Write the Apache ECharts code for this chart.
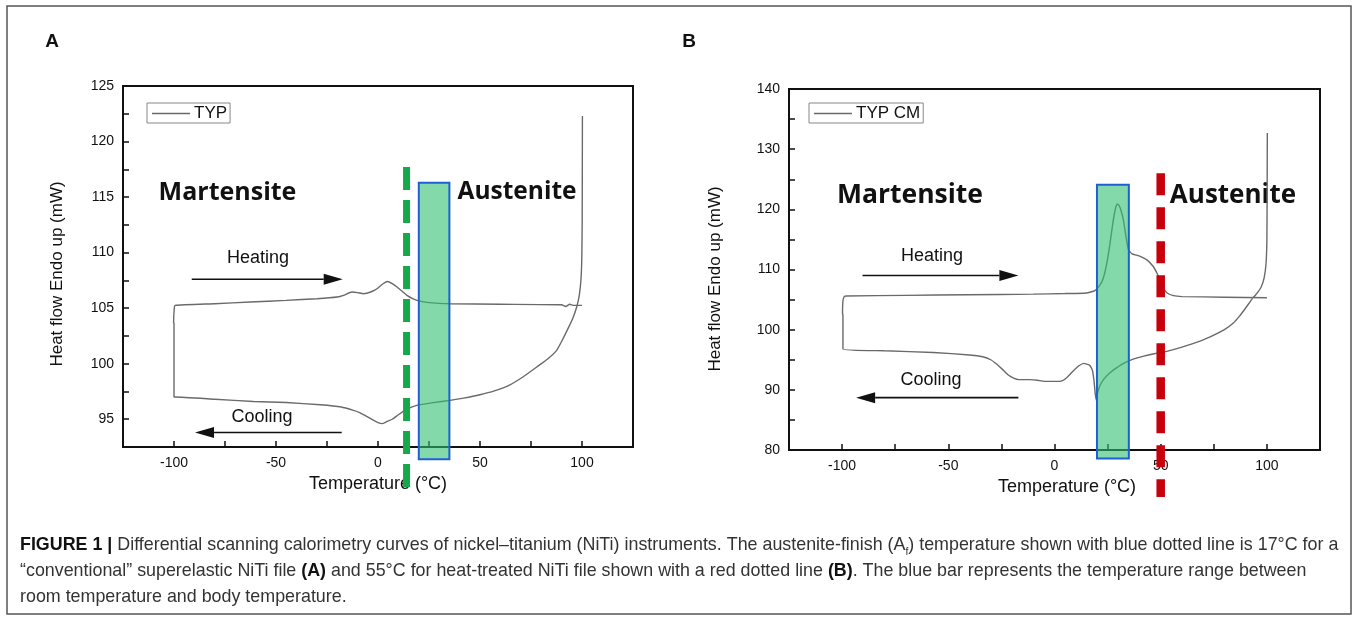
<!DOCTYPE html>
<html>
<head>
<meta charset="utf-8">
<script src="https://cdn.jsdelivr.net/npm/echarts@6/dist/echarts.min.js"></script>
<style>
  html, body { margin: 0; background: #fff; }
  #chart { width: 1357px; height: 621px; }
</style>
</head>
<body>
<div id="chart"></div>
<script>
// DSC loop of the conventional file (A): cooling from the right, then heating back
const typLoop = [
  [100.2, 122.3], [100.1, 113], [99.9, 109.5], [99.5, 107.6], [98.7, 106.2], [97.4, 105.1],
  [95.5, 104.1], [92.7, 103.0], [90, 102.0], [87.6, 101.2], [83, 100.4], [77.8, 99.7],
  [71, 98.8], [64.7, 98.1], [57, 97.55], [50, 97.2], [42, 96.9], [35.3, 96.7], [27, 96.5],
  [19, 96.25], [14.2, 95.9], [10, 95.4], [7, 95.0], [4.4, 94.8], [2, 94.6], [0, 94.7],
  [-2.1, 94.9], [-6, 95.3], [-9, 95.6], [-12, 95.8], [-18, 96.1], [-28.3, 96.3], [-45, 96.5],
  [-61, 96.6], [-80, 96.8], [-99.5, 97.0], [-100, 97.0], [-100, 103.6], [-100.2, 103.7],
  [-99.9, 104.9], [-99.5, 105.25], [-80, 105.4], [-62.7, 105.55], [-45, 105.7], [-29.9, 105.85],
  [-20, 106.0], [-16.9, 106.15], [-12.8, 106.45], [-10, 106.4], [-7.1, 106.3], [-3, 106.5],
  [-0.5, 106.75], [2.5, 107.2], [4.7, 107.4], [7, 107.2], [9.3, 106.9], [12, 106.5],
  [14.2, 106.15], [17, 105.85], [19.1, 105.7], [25, 105.5], [35.5, 105.4], [60, 105.35],
  [90, 105.3], [92, 105.15], [94, 105.35], [96, 105.25], [100, 105.25]
];

// DSC loop of the heat-treated file (B)
const typCmLoop = [
  [100.2, 132.7], [100.1, 122], [100, 115], [99.6, 111], [98.7, 108.6], [97.2, 107],
  [95, 105.9], [92.8, 105.0], [90, 103.6], [87, 102.2], [84.2, 101.1], [80, 100.0],
  [75, 99.1], [68.5, 98.1], [60, 97.1], [52.8, 96.4], [47, 96.0], [42, 95.6], [37, 95.1],
  [32.5, 94.4], [29, 93.6], [26, 92.8], [23.5, 91.9], [21.5, 90.8], [20.3, 89.5], [19.7, 88.3],
  [19.2, 89.3], [18.6, 91.5], [17.8, 93.3], [16.5, 94.1], [13.8, 94.4], [11.5, 94.0],
  [8.7, 93.1], [6, 92.1], [3.6, 91.5], [0, 91.4], [-4.9, 91.4], [-8, 91.6], [-11.7, 91.7],
  [-16.8, 91.7], [-19.5, 92.0], [-21.9, 92.5], [-24.5, 93.4], [-27, 94.2], [-30, 95.0],
  [-33.8, 95.5], [-40, 95.8], [-57, 96.2], [-80, 96.5], [-99.6, 96.8], [-99.6, 102.5],
  [-99.8, 102.6], [-99.6, 104.8], [-99, 105.5], [-98, 105.6], [-70, 105.7], [-41, 105.8],
  [-10, 105.9], [5, 106.0], [15, 106.1], [19, 106.5], [21.5, 107.5], [23, 108.6],
  [24.5, 110.8], [26, 114.0], [27.5, 117.8], [28.8, 120.3], [29.6, 120.9], [30.5, 120.6],
  [31.5, 119.6], [32.4, 118.3], [33.5, 115.8], [34.8, 113.3], [36.5, 112.6], [38.5, 112.4],
  [40.3, 112.2], [43.5, 111.6], [46.5, 110.5], [48.5, 109.2], [50, 108.0], [51.5, 106.8],
  [53, 106.1], [56, 105.65], [60, 105.5], [80, 105.4], [100, 105.3]
];

// room-to-body temperature bar: [tempFrom, tempTo, flowBottom, flowTop]
const roomBodyBarA = [20, 35, 91.4, 116.3];
const roomBodyBarB = [20, 35, 78.6, 124.1];
// Af marker line: [temp, flowBottom, flowTop]
const afLineA = [14, 88.3, 117.7];
const afLineB = [50, 72.2, 126.0];
// arrows: [tempStart, tempTip, flow]
const arrowsA = [[-91.3, -17.3, 107.6], [-17.8, -89.7, 93.8]];
const arrowsB = [[-90.4, -17.0, 109.0], [-17.0, -93.4, 88.7]];

const FONT = '"Liberation Sans", Arial, sans-serif';
const INK = '#111';
const CURVE = '#6a6a6a';

function xAxisFor(gridIndex, namePad) {
  return {
    gridIndex, type: 'value', min: -125, max: 125, interval: 25,
    axisLine: { onZero: false, lineStyle: { color: INK, width: 2 } },
    axisTick: { inside: true, length: 6, lineStyle: { color: INK, width: 1.5 } },
    axisLabel: { formatter: v => (v % 50 === 0 ? String(v) : ''), fontSize: 14, color: INK, fontFamily: FONT, margin: 9 },
    splitLine: { show: false },
    name: 'Temperature (°C)', nameLocation: 'middle', nameGap: 20,
    nameTextStyle: { fontSize: 18, color: INK, fontFamily: FONT, padding: [0, 0, 0, namePad] }
  };
}

function yAxisFor(gridIndex, min, max, step, gap, namePad) {
  return {
    gridIndex, type: 'value', min, max, interval: step / 2,
    axisLine: { onZero: false, lineStyle: { color: INK, width: 2 } },
    axisTick: { inside: true, length: 6, lineStyle: { color: INK, width: 1.5 } },
    axisLabel: { formatter: v => (Math.abs(v % step) < 1e-6 ? String(v) : ''), fontSize: 14, color: INK, fontFamily: FONT, margin: 9 },
    splitLine: { show: false },
    name: 'Heat flow Endo up (mW)', nameLocation: 'middle', nameGap: gap,
    nameTextStyle: { fontSize: 17, color: INK, fontFamily: FONT, padding: [0, namePad, 0, 0] }
  };
}

function barRenderer(params, api) {
  const p0 = api.coord([api.value(0), api.value(3)]);
  const p1 = api.coord([api.value(1), api.value(2)]);
  return {
    type: 'rect',
    shape: { x: p0[0], y: p0[1], width: p1[0] - p0[0], height: p1[1] - p0[1] },
    style: { fill: 'rgba(48,192,112,0.6)', stroke: '#1f5fd6', lineWidth: 2 }
  };
}

function dashRenderer(color, width, dash) {
  return function (params, api) {
    const a = api.coord([api.value(0), api.value(2)]);
    const b = api.coord([api.value(0), api.value(1)]);
    return {
      type: 'line',
      shape: { x1: a[0], y1: a[1], x2: b[0], y2: b[1] },
      style: { stroke: color, lineWidth: width, lineDash: dash }
    };
  };
}

function arrowRenderer(params, api) {
  const a = api.coord([api.value(0), api.value(2)]);
  const b = api.coord([api.value(1), api.value(2)]);
  const dir = Math.sign(b[0] - a[0]);
  const base = b[0] - dir * 19;
  return {
    type: 'group',
    children: [
      { type: 'line', shape: { x1: a[0], y1: a[1], x2: base, y2: b[1] }, style: { stroke: INK, lineWidth: 1.6 } },
      { type: 'polygon', shape: { points: [[b[0], b[1]], [base, b[1] - 5.5], [base, b[1] + 5.5]] }, style: { fill: INK } }
    ]
  };
}

function legendFor(name, left) {
  return {
    data: [{ name, icon: 'rect' }], left, top: 103, itemWidth: 38, itemHeight: 1.4, itemGap: 0,
    itemStyle: { color: CURVE, borderWidth: 0 },
    borderColor: '#888', borderWidth: 1, borderRadius: 0, padding: [2, 3, 1, 5],
    selectedMode: false,
    textStyle: { fontSize: 17, color: INK, fontFamily: FONT, padding: [0, 0, 0, -1] }
  };
}

function label(text, x, y, size, bold, family) {
  return {
    type: 'text', x, y, silent: true,
    style: {
      text, fontSize: size, fontWeight: bold ? 'bold' : 'normal', fontFamily: family || FONT,
      fill: INK, align: 'center', verticalAlign: 'middle'
    }
  };
}

const SANS_BOLD = '"Open Sans", "Noto Sans", sans-serif';
const CAP_SIZE = 19;
const captionRich = {
  b: { fontWeight: 'bold', fontSize: CAP_SIZE, fontFamily: FONT, fill: '#111' },
  s: { fontSize: 11, fontFamily: FONT, fill: '#333', verticalAlign: 'bottom', padding: [0, 0, -3, 0] }
};
function captionLine(text, y) {
  return {
    type: 'text', x: 20, y, scaleX: 0.94, silent: true,
    style: { text, fontSize: CAP_SIZE, fontFamily: FONT, fill: '#333', verticalAlign: 'middle', rich: captionRich }
  };
}

const chart = echarts.init(document.getElementById('chart'), null, { renderer: 'canvas' });

const option = {
  backgroundColor: '#fff',
  animation: false,
  grid: [
    { left: 123, top: 86, width: 510, height: 361, show: true, borderColor: INK, borderWidth: 2, backgroundColor: 'transparent' },
    { left: 789, top: 89, width: 531, height: 361, show: true, borderColor: INK, borderWidth: 2, backgroundColor: 'transparent' }
  ],
  legend: [legendFor('TYP', 147), legendFor('TYP CM', 809)],
  xAxis: [xAxisFor(0, 0), xAxisFor(1, 25)],
  yAxis: [yAxisFor(0, 92.5, 125, 5, 57, 15), yAxisFor(1, 80, 140, 10, 65, 19)],
  series: [
    {
      name: 'TYP', type: 'line', xAxisIndex: 0, yAxisIndex: 0, data: typLoop,
      symbol: 'none', smooth: 0.15, lineStyle: { color: CURVE, width: 1.4 }, itemStyle: { color: CURVE }, z: 2
    },
    {
      name: 'TYP CM', type: 'line', xAxisIndex: 1, yAxisIndex: 1, data: typCmLoop,
      symbol: 'none', smooth: 0.15, lineStyle: { color: CURVE, width: 1.4 }, itemStyle: { color: CURVE }, z: 2
    },
    { type: 'custom', xAxisIndex: 0, yAxisIndex: 0, data: [roomBodyBarA], encode: { x: [0, 1], y: [2, 3] }, renderItem: barRenderer, clip: false, silent: true, z: 3 },
    { type: 'custom', xAxisIndex: 1, yAxisIndex: 1, data: [roomBodyBarB], encode: { x: [0, 1], y: [2, 3] }, renderItem: barRenderer, clip: false, silent: true, z: 3 },
    { type: 'custom', xAxisIndex: 0, yAxisIndex: 0, data: [afLineA], encode: { x: 0, y: [1, 2] }, renderItem: dashRenderer('#16a84a', 7, [23, 10]), clip: false, silent: true, z: 4 },
    { type: 'custom', xAxisIndex: 1, yAxisIndex: 1, data: [afLineB], encode: { x: 0, y: [1, 2] }, renderItem: dashRenderer('#c8000b', 8.5, [22, 12]), clip: false, silent: true, z: 4 },
    { type: 'custom', xAxisIndex: 0, yAxisIndex: 0, data: arrowsA, encode: { x: [0, 1], y: 2 }, renderItem: arrowRenderer, clip: false, silent: true, z: 4 },
    { type: 'custom', xAxisIndex: 1, yAxisIndex: 1, data: arrowsB, encode: { x: [0, 1], y: 2 }, renderItem: arrowRenderer, clip: false, silent: true, z: 4 }
  ],
  graphic: [
    { type: 'rect', silent: true, shape: { x: 7, y: 6, width: 1344, height: 608 }, style: { fill: 'none', stroke: '#555', lineWidth: 1.5 } },
    label('A', 52, 42, 19, true),
    label('B', 689, 42, 19, true),
    label('Martensite', 227.5, 193, 25, true, SANS_BOLD),
    label('Austenite', 517, 192, 24.5, true, SANS_BOLD),
    label('Heating', 258, 258, 18, false),
    label('Cooling', 262, 417, 18, false),
    label('Martensite', 910, 195, 26.5, true, SANS_BOLD),
    label('Austenite', 1233, 196, 26, true, SANS_BOLD),
    label('Heating', 932, 256, 18, false),
    label('Cooling', 931, 380, 18, false),
    captionLine('{b|FIGURE 1 |} Differential scanning calorimetry curves of nickel–titanium (NiTi) instruments. The austenite-finish (A{s|f}) temperature shown with blue dotted line is 17°C for a', 545),
    captionLine('“conventional” superelastic NiTi file {b|(A)} and 55°C for heat-treated NiTi file shown with a red dotted line {b|(B)}. The blue bar represents the temperature range between', 571),
    captionLine('room temperature and body temperature.', 597)
  ]
};

chart.setOption(option);
</script>
</body>
</html>
